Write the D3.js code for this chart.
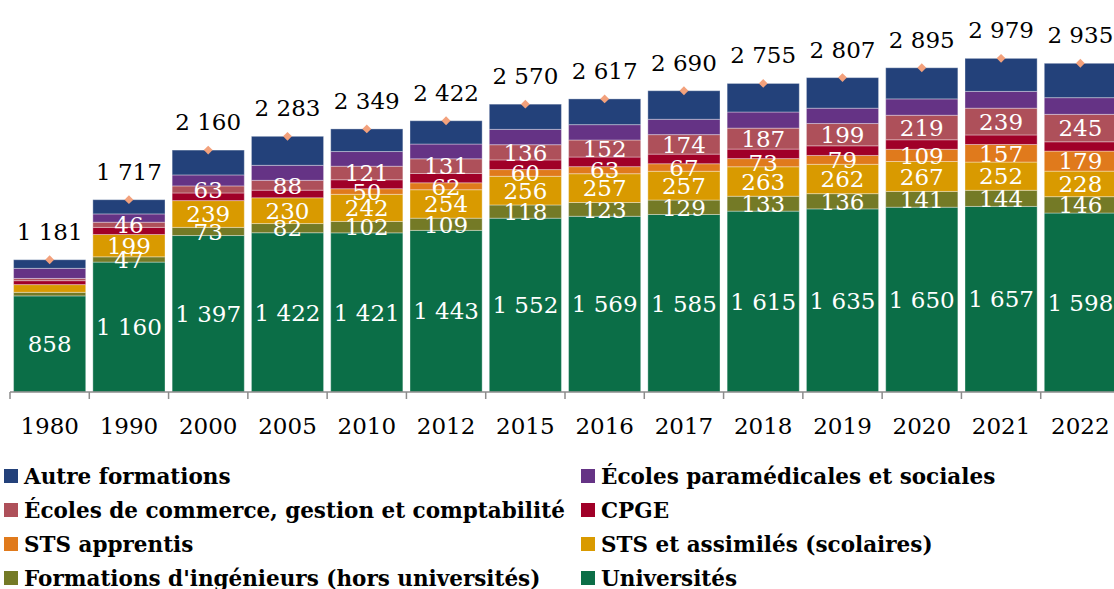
<!DOCTYPE html>
<html>
<head>
<meta charset="utf-8">
<script src="https://cdn.jsdelivr.net/npm/d3@7"></script>
<style>
  body { margin: 0; background: #fff; }
  svg { display: block; font-family: "DejaVu Serif", serif; }
</style>
</head>
<body>
<div id="chart"></div>
<script>
// effectifs (milliers)
var years = ['1980','1990','2000','2005','2010','2012','2015','2016','2017','2018','2019','2020','2021','2022'];

var universites = [858, 1160, 1397, 1422, 1421, 1443, 1552, 1569, 1585, 1615, 1635, 1650, 1657, 1598];
var ingenieurs  = [32, 47, 73, 82, 102, 109, 118, 123, 129, 133, 136, 141, 144, 146];
var stsScol     = [69, 199, 239, 230, 242, 254, 256, 257, 257, 263, 262, 267, 252, 228];
var stsApp      = [0, 0, 0, 0, 50, 62, 60, 63, 67, 73, 79, 109, 157, 179];
var cpge        = [35, 64, 68, 68, 80, 83, 86, 86, 86, 85, 86, 85, 85, 83];
var commerce    = [20, 46, 63, 88, 121, 131, 136, 152, 174, 187, 199, 219, 239, 245];
var paramed     = [90, 74, 98, 134, 131, 132, 137, 137, 137, 144, 137, 146, 150, 149];
var autres      = [77, 127, 222, 259, 202, 208, 225, 230, 255, 255, 273, 278, 295, 307];

// bottom to top
var series = [
  {key: 'univ', name: 'Universités', values: universites, color: '#0b6e47', labelFrom: 0},
  {key: 'ing', name: "Formations d'ingénieurs (hors universités)", values: ingenieurs, color: '#747a26', labelFrom: 1},
  {key: 'sts', name: 'STS et assimilés (scolaires)', values: stsScol, color: '#d99a00', labelFrom: 1},
  {key: 'app', name: 'STS apprentis', values: stsApp, color: '#e07a1c', labelFrom: 4},
  {key: 'cpge', name: 'CPGE', values: cpge, color: '#a00028', labelFrom: 99},
  {key: 'com', name: 'Écoles de commerce, gestion et comptabilité', values: commerce, color: '#ae505a', labelFrom: 1},
  {key: 'para', name: 'Écoles paramédicales et sociales', values: paramed, color: '#653385', labelFrom: 99},
  {key: 'autre', name: 'Autre formations', values: autres, color: '#23417a', labelFrom: 99}
];

// legend order, two columns
var legendOrder = ['autre', 'para', 'com', 'cpge', 'app', 'sts', 'ing', 'univ'];

var width = 1114, height = 589;
var fmt = d3.formatLocale({decimal: ',', thousands: ' ', grouping: [3], currency: ['', '']}).format(',d');

var rows = years.map(function (y, i) {
  var r = {year: y};
  series.forEach(function (s) { r[s.key] = s.values[i]; });
  return r;
});

var stack = d3.stack().keys(series.map(function (s) { return s.key; }));
var layers = stack(rows);

var x = d3.scaleBand()
  .domain(years)
  .range([10, 1120])
  .paddingInner(0.09)
  .paddingOuter(0.045);

var xEdge = d3.scaleBand().domain(years).range([10, 1120]).padding(0);

var y = d3.scaleLinear().domain([0, 3500]).range([392, 0]);

var svg = d3.select('#chart').append('svg')
  .attr('width', width)
  .attr('height', height);

var g = svg.selectAll('g.layer')
  .data(layers)
  .enter().append('g')
    .attr('class', 'layer')
    .style('fill', function (d, i) { return series[i].color; });

g.selectAll('rect')
  .data(function (d) { return d; })
  .enter().append('rect')
    .attr('x', function (d) { return x(d.data.year); })
    .attr('width', x.bandwidth())
    .attr('y', function (d) { return y(d[1]); })
    .attr('height', function (d) { return y(d[0]) - y(d[1]); })
    .style('stroke', 'rgba(255,255,255,0.35)')
    .style('stroke-width', 1);

// labels inside segments
layers.forEach(function (layer, si) {
  var s = series[si];
  svg.append('g').selectAll('text')
    .data(layer.filter(function (d, i) { return i >= s.labelFrom && s.values[i] > 0; }))
    .enter().append('text')
      .attr('x', function (d) { return x(d.data.year) + x.bandwidth() / 2; })
      .attr('y', function (d) { return (y(d[0]) + y(d[1])) / 2; })
      .attr('dy', '0.36em')
      .attr('text-anchor', 'middle')
      .style('fill', '#fff')
      .style('font-size', '23px')
      .text(function (d) { return fmt(d[1] - d[0]); });
});

// totals
var topLayer = layers[layers.length - 1];
svg.append('g').selectAll('path')
  .data(topLayer)
  .enter().append('path')
    .attr('d', d3.symbol(d3.symbolDiamond2, 50))
    .attr('transform', function (d) {
      return 'translate(' + (x(d.data.year) + x.bandwidth() / 2) + ',' + y(d[1]) + ')';
    })
    .style('fill', '#f3a17c');

svg.append('g').selectAll('text')
  .data(topLayer)
  .enter().append('text')
    .attr('x', function (d) { return x(d.data.year) + x.bandwidth() / 2; })
    .attr('y', function (d) { return y(d[1]) - 20; })
    .attr('text-anchor', 'middle')
    .style('fill', '#000')
    .style('font-size', '23px')
    .text(function (d) { return fmt(d[1]); });

// axis
var axis = svg.append('g').attr('transform', 'translate(0,392)');
axis.append('line')
  .attr('x1', 10).attr('x2', width)
  .style('stroke', '#8c8c8c').style('stroke-width', 1.5);
axis.selectAll('line.tick')
  .data(years.concat(['end']))
  .enter().append('line')
    .attr('class', 'tick')
    .attr('x1', function (d, i) { return i < years.length ? xEdge(d) : 1120; })
    .attr('x2', function (d, i) { return i < years.length ? xEdge(d) : 1120; })
    .attr('y1', 0).attr('y2', 7)
    .style('stroke', '#8c8c8c').style('stroke-width', 1.5);

var xAxis = svg.append('g')
  .attr('transform', 'translate(0,392)')
  .call(d3.axisBottom(xEdge).tickSize(0).tickPadding(26));
xAxis.select('.domain').remove();
xAxis.selectAll('text')
  .style('font-family', '"DejaVu Serif", serif')
  .style('font-size', '23px')
  .style('fill', '#000');

// legend
var legend = svg.append('g').selectAll('g')
  .data(legendOrder.map(function (k) { return series.find(function (s) { return s.key === k; }); }))
  .enter().append('g')
    .attr('transform', function (d, i) {
      return 'translate(' + (i % 2 ? 581 : 4) + ',' + (476 + Math.floor(i / 2) * 34) + ')';
    });

legend.append('rect')
  .attr('y', -7).attr('width', 14).attr('height', 14)
  .style('fill', function (d) { return d.color; });

legend.append('text')
  .attr('x', 20)
  .attr('dy', '0.36em')
  .style('font-size', '21.5px')
  .style('font-weight', 'bold')
  .style('fill', '#000')
  .text(function (d) { return d.name; });
</script>
</body>
</html>
